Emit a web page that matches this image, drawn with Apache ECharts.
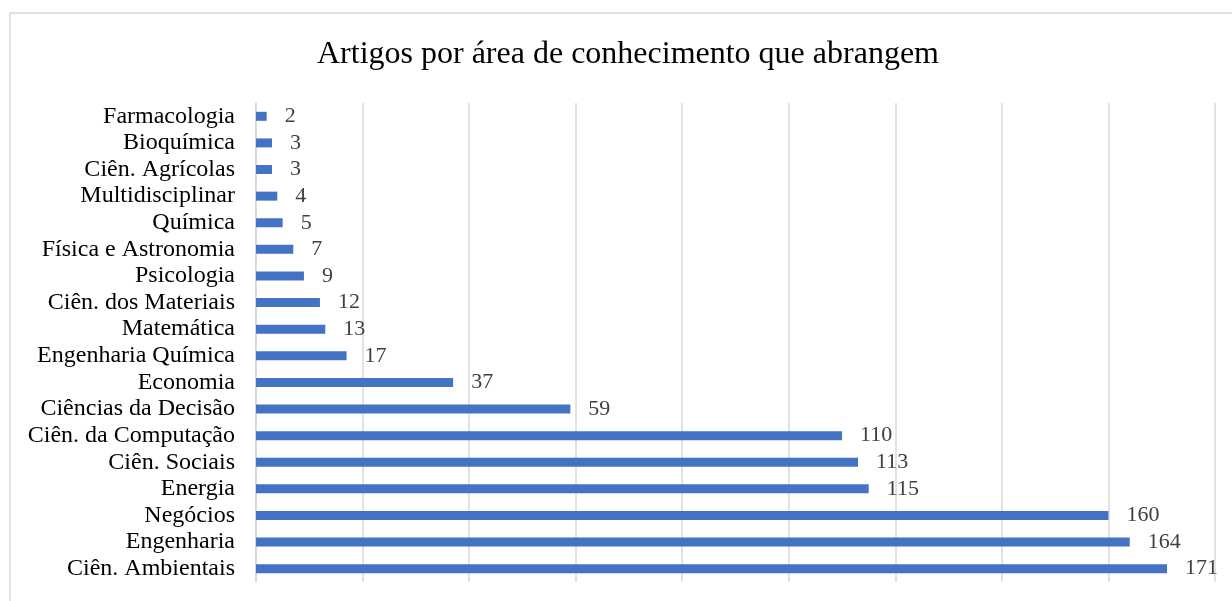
<!DOCTYPE html>
<html><head><meta charset="utf-8">
<script src="https://cdn.jsdelivr.net/npm/echarts@6/dist/echarts.min.js"></script>
<style>html,body{margin:0;padding:0;background:#fff}#c{width:1232px;height:601px}</style>
</head><body><div id="c"></div>
<script>
const categories = ["Farmacologia","Bioquímica","Ciên. Agrícolas","Multidisciplinar","Química","Física e Astronomia","Psicologia","Ciên. dos Materiais","Matemática","Engenharia Química","Economia","Ciências da Decisão","Ciên. da Computação","Ciên. Sociais","Energia","Negócios","Engenharia","Ciên. Ambientais"];
const values = [2,3,3,4,5,7,9,12,13,17,37,59,110,113,115,160,164,171];
const title = "Artigos por área de conhecimento que abrangem";
const serif = "'Liberation Serif','Times New Roman',serif";
const chart = echarts.init(document.getElementById('c'));
chart.setOption({
  animation:false,
  title:{text:title,left:312,top:34,textStyle:{fontFamily:serif,fontSize:32,fontWeight:'normal',color:'#000'}},
  graphic:[{type:'rect',shape:{x:10,y:13,width:1250,height:620},style:{fill:'none',stroke:'#d9d9d9',lineWidth:1.5},z:-1}],
  grid:{left:256,right:17,top:103,bottom:19,containLabel:false},
  xAxis:{type:'value',min:0,max:180,interval:20,axisLabel:{show:false},axisLine:{show:false},axisTick:{show:false},
    splitLine:{show:true,lineStyle:{color:'#d9d9d9',width:1.5}}},
  yAxis:{type:'category',data:categories,inverse:true,axisTick:{show:false},
    axisLine:{show:true,lineStyle:{color:'#d9d9d9',width:1.5}},
    axisLabel:{interval:0,fontFamily:serif,fontSize:24,color:'#000',margin:21}},
  series:[{type:'bar',data:values,barWidth:9,itemStyle:{color:'#4472C4'},
    label:{show:true,position:'right',distance:18,fontFamily:serif,fontSize:22,color:'#404040'}}]
});
</script></body></html>
